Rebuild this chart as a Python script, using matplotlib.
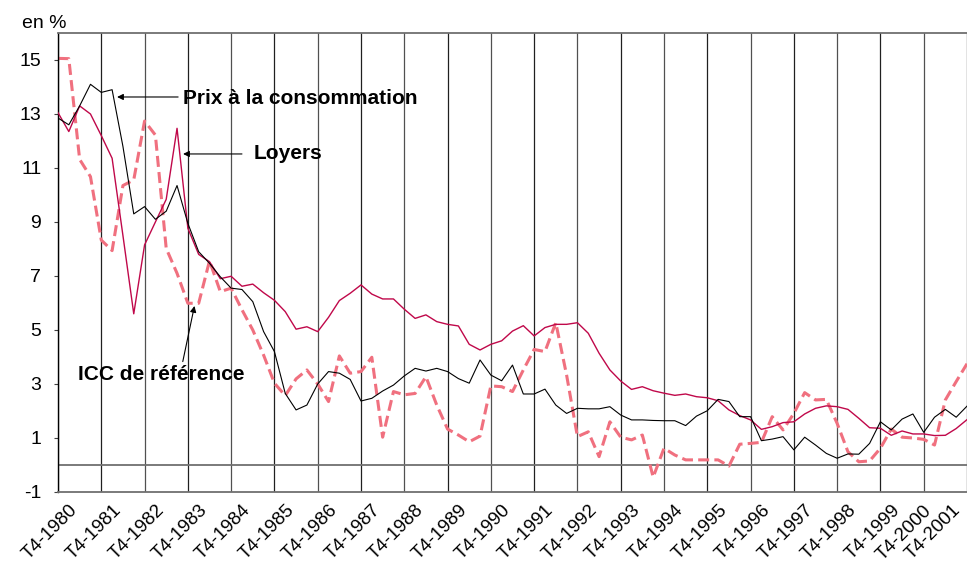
import matplotlib
matplotlib.use("Agg")
import matplotlib.pyplot as plt
import matplotlib.transforms as mtransforms
import numpy as np

plt.rcParams['font.family'] = ['Liberation Sans', 'DejaVu Sans']

# Quarterly series, T4-1980 ... T4-2001 (year-on-year change, %)
prix_conso = [12.85, 12.6, 13.3, 14.1, 13.8, 13.9, 11.8, 9.3, 9.57, 9.1, 9.4, 10.35,
              8.95, 7.9, 7.47, 6.97, 6.55, 6.5, 6.05, 4.94, 4.2, 2.65, 2.04, 2.22,
              3.0, 3.46, 3.4, 3.17, 2.37, 2.47, 2.74, 2.96, 3.3, 3.58, 3.48, 3.58,
              3.46, 3.2, 3.03, 3.89, 3.33, 3.12, 3.7, 2.63, 2.63, 2.81, 2.22, 1.91,
              2.1, 2.08, 2.08, 2.16, 1.85, 1.67, 1.67, 1.65, 1.64, 1.64, 1.46, 1.81,
              2.01, 2.43, 2.35, 1.79, 1.79, 0.9, 0.96, 1.05, 0.56, 1.03, 0.74, 0.43,
              0.25, 0.41, 0.4, 0.8, 1.6, 1.3, 1.7, 1.89, 1.21, 1.77, 2.06, 1.77, 2.18]

loyers = [13.05, 12.35, 13.3, 13.0, 12.2, 11.36, 8.5, 5.6, 8.15, 9.0, 9.84, 12.47,
          8.77, 7.8, 7.53, 6.9, 6.99, 6.62, 6.7, 6.38, 6.1, 5.68, 5.03, 5.12,
          4.94, 5.47, 6.09, 6.36, 6.67, 6.33, 6.15, 6.15, 5.77, 5.43, 5.56, 5.31,
          5.21, 5.15, 4.47, 4.26, 4.47, 4.6, 4.96, 5.16, 4.78, 5.09, 5.21, 5.21,
          5.27, 4.88, 4.14, 3.52, 3.11, 2.8, 2.9, 2.75, 2.66, 2.58, 2.63, 2.53,
          2.49, 2.38, 2.04, 1.83, 1.67, 1.32, 1.42, 1.57, 1.6, 1.89, 2.1, 2.19,
          2.16, 2.06, 1.73, 1.38, 1.36, 1.1, 1.26, 1.15, 1.15, 1.09, 1.1, 1.35, 1.68]

icc = [15.06, 15.05, 11.32, 10.68, 8.33, 7.94, 10.35, 10.56, 12.74, 12.22, 8.02, 7.1,
       5.99, 5.99, 7.56, 6.42, 6.55, 5.75, 5.0, 4.07, 3.03, 2.57, 3.19, 3.52,
       3.0, 2.35, 4.04, 3.4, 3.46, 3.99, 1.03, 2.72, 2.6, 2.65, 3.27, 2.22,
       1.33, 1.11, 0.86, 1.07, 2.93, 2.9, 2.72, 3.52, 4.28, 4.2, 5.27, 3.33,
       1.05, 1.23, 0.31, 1.6, 1.03, 0.93, 1.11, -0.45, 0.62, 0.37, 0.19, 0.19,
       0.19, 0.19, -0.04, 0.77, 0.8, 0.84, 1.79, 1.3, 1.91, 2.68, 2.41, 2.43,
       1.54, 0.49, 0.12, 0.15, 0.62, 1.33, 1.03, 1.0, 0.95, 0.74, 2.41, 3.09, 3.75]

years = list(range(1980, 2002))
tick_labels = [f"T4-{y}" for y in years]
y_ticks = [-1, 1, 3, 5, 7, 9, 11, 13, 15]

W, H = 967, 568
fig = plt.figure(figsize=(W / 100, H / 100), dpi=100)
left, right, top, bottom = 58, 967, 33, 492
ax = fig.add_axes([left / W, 1 - bottom / H, (right - left) / W, (bottom - top) / H])

x = np.arange(len(prix_conso))
tick_pos = np.arange(0, len(prix_conso), 4)

# vertical year gridlines
for k, tp in enumerate(tick_pos):
    ax.axvline(tp, color='#202020' if k % 2 else '#505050', lw=0.9, zorder=1)
ax.axhline(0, color='#707070', lw=1.3, zorder=1)

ax.plot(x, loyers, color='#C0084A', lw=1.0, zorder=3)
ax.plot(x, prix_conso, color='black', lw=0.8, zorder=4)
ln, = ax.plot(x, icc, color='#F0707F', lw=2.2, zorder=2)
ln.set_dashes([3.6, 1.7])

ax.set_xlim(0, 84)
ax.set_ylim(-1, 16)
ax.set_yticks(y_ticks)
ax.set_yticklabels([str(v) for v in y_ticks], fontsize=14)
ax.tick_params(axis='y', length=3, pad=9, color='#404040')
ax.set_xticks(tick_pos)
ax.set_xticklabels(tick_labels, fontsize=13.5, rotation=45, ha='right',
                   rotation_mode='anchor')
ax.tick_params(axis='x', length=0, pad=7)
labs = ax.get_xticklabels()
for k, lab in enumerate(labs):
    if k == len(labs) - 1:
        dx = -15
    elif k == len(labs) - 2:
        dx = -1
    else:
        dx = 11
    offset = mtransforms.ScaledTranslation(dx / 100, 0, fig.dpi_scale_trans)
    lab.set_transform(lab.get_transform() + offset)

for side in ['top', 'bottom']:
    ax.spines[side].set_color('#707070')
    ax.spines[side].set_linewidth(1.3)
ax.spines['right'].set_visible(False)
ax.spines['left'].set_color('black')
ax.spines['left'].set_linewidth(1.0)

fig.text(22 / W, 1 - 23 / H, "en %", fontsize=14, ha='left', va='center')

arrow = dict(arrowstyle='-|>', color='black', lw=0.8, mutation_scale=9,
             shrinkA=0, shrinkB=0)
ax.annotate("", xy=(5.46, 13.63), xytext=(11.1, 13.63), arrowprops=arrow)
ax.text(11.56, 13.56, "Prix à la consommation", fontsize=15, fontweight='bold',
        ha='left', va='center')
ax.annotate("", xy=(11.56, 11.52), xytext=(17.0, 11.52), arrowprops=arrow)
ax.text(18.04, 11.52, "Loyers", fontsize=15, fontweight='bold',
        ha='left', va='center')
ax.annotate("", xy=(12.61, 5.89), xytext=(11.53, 3.83), arrowprops=arrow)
ax.text(1.85, 3.37, "ICC de référence", fontsize=15, fontweight='bold',
        ha='left', va='center')

fig.savefig("out.png", dpi=100)
